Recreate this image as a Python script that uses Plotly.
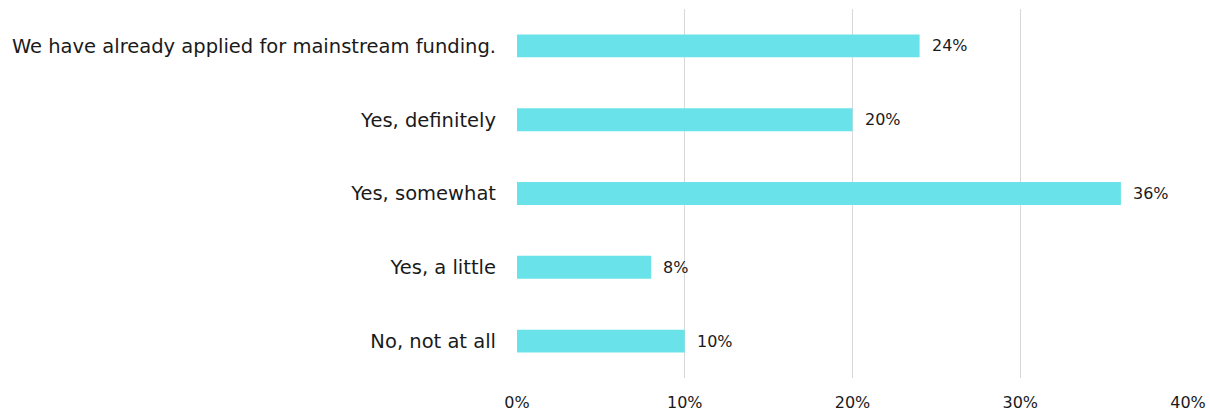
import plotly.graph_objects as go

categories = [
    "We have already applied for mainstream funding.",
    "Yes, definitely",
    "Yes, somewhat",
    "Yes, a little",
    "No, not at all",
]
values = [24, 20, 36, 8, 10]
tick_vals = [0, 10, 20, 30, 40]
tick_text = ["0%", "10%", "20%", "30%", "40%"]

FONT = "'DejaVu Sans', 'Noto Sans', sans-serif"
BAR_COLOR = "#69e3e9"
TEXT_COLOR = "#1a1a1a"

fig = go.Figure(
    go.Bar(
        x=values,
        y=categories,
        orientation="h",
        marker=dict(color=BAR_COLOR, line=dict(width=0)),
        hoverinfo="skip",
    )
)

# value labels just past each bar end
for cat, v in zip(categories, values):
    fig.add_annotation(
        x=v, y=cat, text=f"{v}%", showarrow=False,
        xanchor="left", xshift=10,
        font=dict(family=FONT, size=16, color=TEXT_COLOR),
    )

fig.update_layout(
    width=1210, height=412,
    margin=dict(l=517, r=22, t=9, b=34),
    paper_bgcolor="white", plot_bgcolor="white",
    bargap=0.69,
    showlegend=False,
    font=dict(family=FONT, color=TEXT_COLOR),
)
fig.update_xaxes(
    range=[0, 40], tickvals=tick_vals, ticktext=tick_text,
    showgrid=True, gridcolor="#d8d8d8", gridwidth=1.3,
    zeroline=False, showline=False, automargin=False,
    tickfont=dict(family=FONT, size=16, color=TEXT_COLOR),
    ticklabelstandoff=13,
)
fig.update_yaxes(
    categoryorder="array", categoryarray=categories[::-1],
    showgrid=False, zeroline=False, showline=False, automargin=False,
    tickfont=dict(family=FONT, size=19.5, color=TEXT_COLOR),
    ticklabelstandoff=20,
)

fig.write_html("out.html")
